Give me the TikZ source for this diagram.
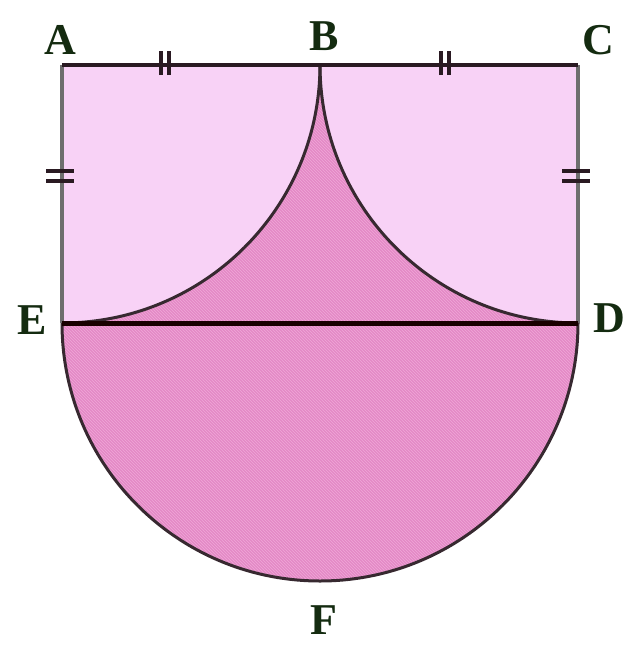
\documentclass[tikz,border=0pt]{standalone}
\usepackage{fontspec}
\setmainfont{Liberation Serif}
\usetikzlibrary{patterns}
\definecolor{lightpk}{HTML}{F8D2F6}
\definecolor{darkpk}{HTML}{E489C6}
\definecolor{hatchpk}{HTML}{F0A8D8}
\definecolor{edgegray}{HTML}{6E6E6E}
\definecolor{inkdark}{HTML}{2A1A22}
\begin{document}
\begin{tikzpicture}[x=1pt,y=-1pt,
  lbl/.style={font=\fontsize{44}{44}\selectfont\bfseries, text=inkdark!80!green!60!black, inner sep=0pt},
  tick/.style={draw=inkdark, line width=4.5pt},
  edge/.style={draw=edgegray, line width=3.5pt},
  arcline/.style={draw=inkdark!85!gray, line width=3pt}]
\useasboundingbox (0,0) rectangle (631,648);
\coordinate (A) at (62,65);
\coordinate (B) at (320,65);
\coordinate (C) at (578,65);
\coordinate (E) at (62,323);
\coordinate (D) at (578,323);
\coordinate (O) at (320,323);
% light rectangle
\fill[lightpk] (A) rectangle (D);
% shaded region
\path[fill=darkpk] (E) arc[start angle=90,end angle=0,radius=258]
  arc[start angle=180,end angle=90,radius=258]
  arc[start angle=0,end angle=180,radius=258] -- cycle;
\path[pattern=north west lines, pattern color=hatchpk] (E) arc[start angle=90,end angle=0,radius=258]
  arc[start angle=180,end angle=90,radius=258]
  arc[start angle=0,end angle=180,radius=258] -- cycle;
% outlines
\draw[edge] (A) -- (E);
\draw[edge] (C) -- (D);
\draw[arcline] (E) arc[start angle=90,end angle=0,radius=258];
\draw[arcline] (B) arc[start angle=180,end angle=90,radius=258];
\draw[arcline] (D) arc[start angle=0,end angle=180,radius=258];
\draw[draw=inkdark, line width=3.5pt] (A) -- (C);
\draw[draw=black!90!red, line width=5pt] (E) -- (D);
% tick marks
\coordinate (t1) at (165,65);
\coordinate (t2) at (445,65);
\coordinate (t3) at (62,176);
\coordinate (t4) at (578,176);
\foreach \t in {t1,t2}{
  \draw[tick] ([xshift=-4pt,yshift=-10pt]\t) -- ([xshift=-4pt,yshift=14pt]\t);
  \draw[tick] ([xshift=4pt,yshift=-10pt]\t) -- ([xshift=4pt,yshift=14pt]\t);
}
\foreach \t in {t3,t4}{
  \draw[tick] ([xshift=-16pt,yshift=-5pt]\t) -- ([xshift=12pt,yshift=-5pt]\t);
  \draw[tick] ([xshift=-16pt,yshift=5pt]\t) -- ([xshift=12pt,yshift=5pt]\t);
}
% labels
\node[lbl] (lA) at (60,40) {A};
\node[lbl] (lB) at (324,36) {B};
\node[lbl] (lC) at (598,40) {C};
\node[lbl] (lE) at (32,320) {E};
\node[lbl] (lD) at (609,318) {D};
\node[lbl] (lF) at (324,620) {F};
\end{tikzpicture}
\end{document}
